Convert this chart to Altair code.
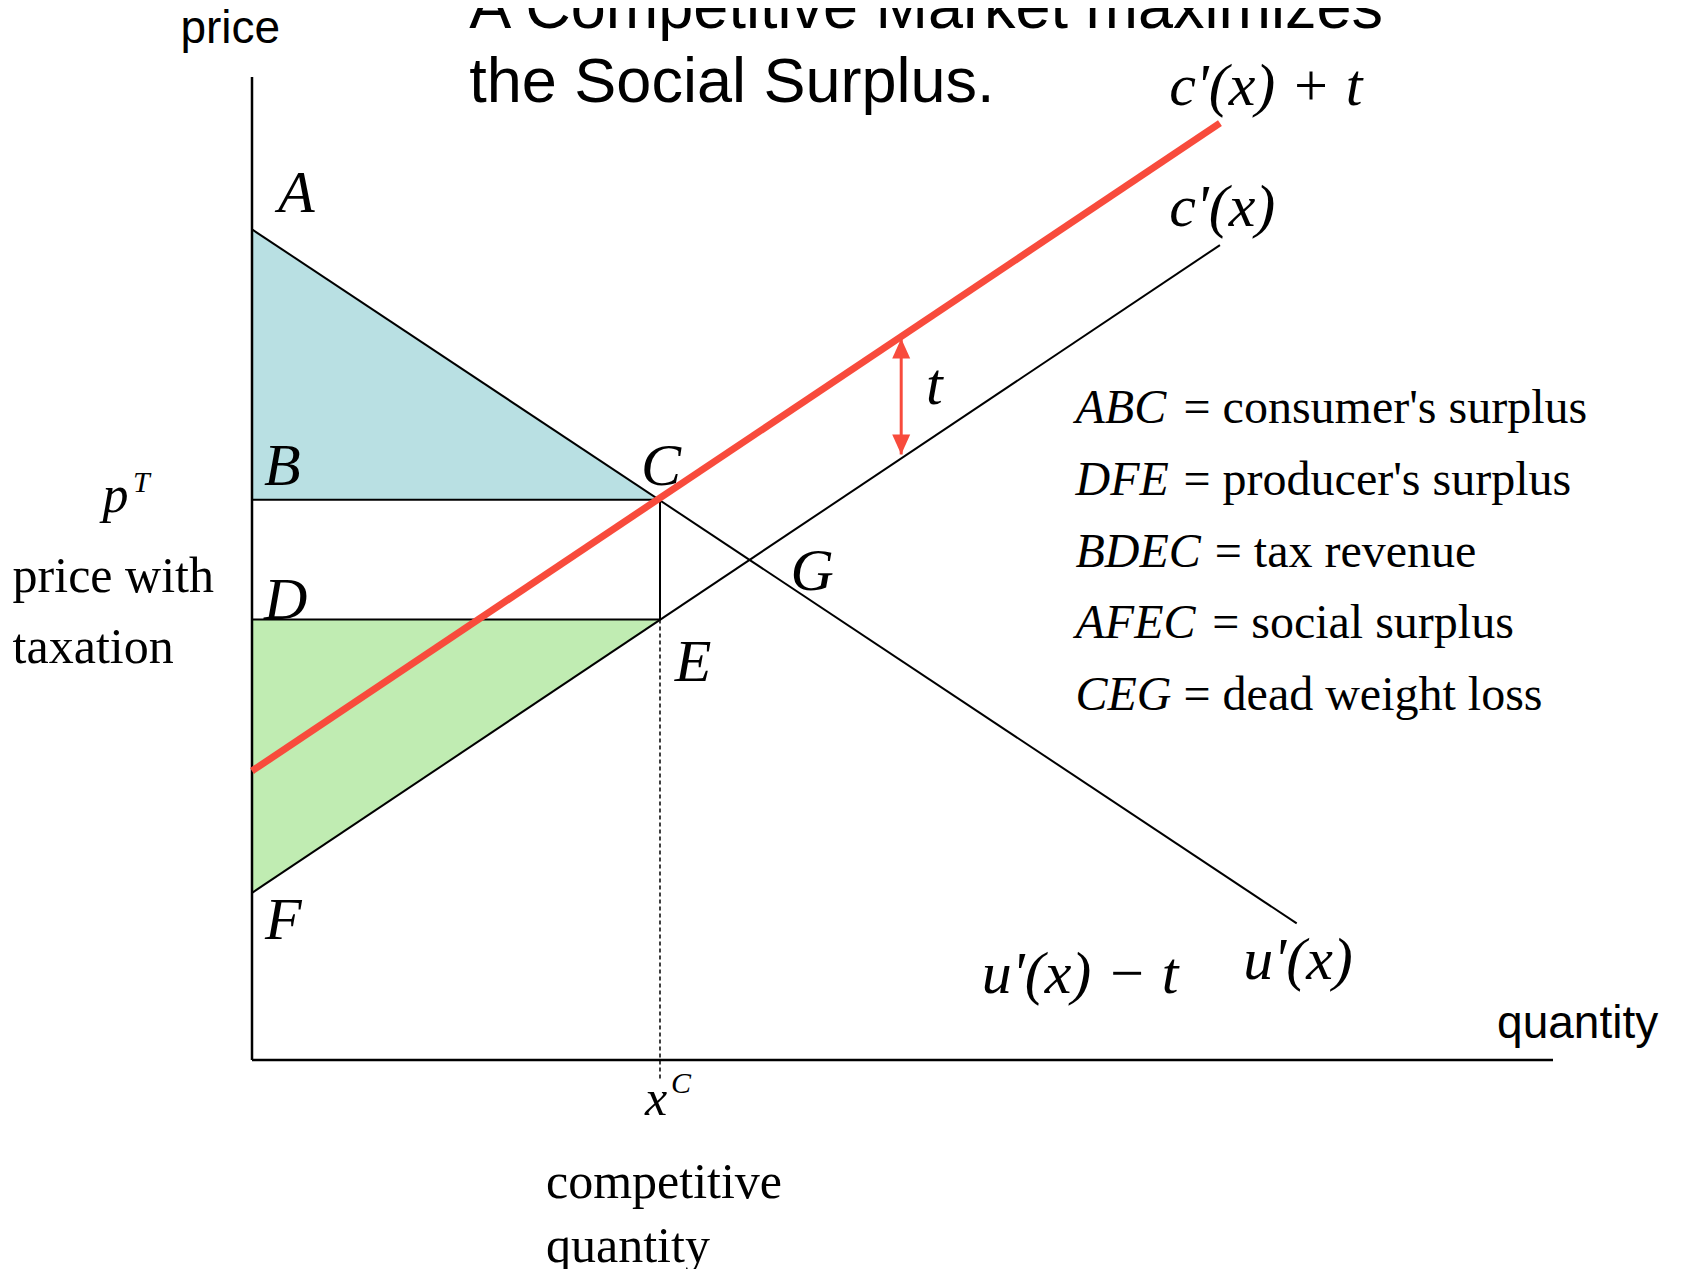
import altair as alt
import pandas as pd

# ---------------- data (quantity 0-100, price 0-100) ----------------
demand_x = [0, 80.3]          # u'(x)
demand_y = [84.5, 13.9]
supply_x = [0, 74.4]          # c'(x)
supply_y = [17.0, 82.9]
taxed_x = [0, 74.4]           # c'(x)+t
taxed_y = [29.4, 95.3]
x_c = 31.36                   # competitive quantity
p_A, p_T, p_S, p_F = 84.5, 57.0, 44.8, 17.0
dash_bottom = -2.0
arrow_x = 49.9
arrow_top, arrow_bottom = 73.4, 61.6

label_text = ["A", "B", "C", "D", "E", "F", "G", "t"]
label_x = [2.0, 0.92, 29.9, 0.92, 32.5, 1.0, 41.4, 51.8]
label_y = [86.3, 58.5, 58.5, 44.9, 38.6, 12.3, 47.8, 66.7]

curve_text = ["c'(x) + t", "c'(x)", "u'(x) \u2212 t", "u'(x)"]
curve_x = [70.5, 70.5, 56.1, 76.2]
curve_y = [97.2, 84.8, 6.8, 8.2]

legend_names = ["ABC", "DFE", "BDEC", "AFEC", "CEG"]
legend_desc = ["= consumer's surplus", "= producer's surplus", "= tax revenue",
               "= social surplus", "= dead weight loss"]
legend_eq_x = [71.6, 71.6, 74.0, 73.8, 71.6]
legend_y = [64.8, 57.5, 50.2, 42.9, 35.6]
legend_name_x = 63.3

serif_text = ["price with", "taxation", "competitive", "quantity"]
serif_x = [-18.4, -18.4, 22.6, 22.6]
serif_y = [47.6, 40.4, -14.0, -20.5]

title_lines = ["A Competitive Market maximizes", "the Social Surplus."]
title_x = 16.7
title_y = [105.0, 97.5]

# ---------------- helpers ----------------
W, H = 1301, 983
xs = alt.Scale(domain=[0, 100], nice=False, zero=False)
ys = alt.Scale(domain=[0, 100], nice=False, zero=False)
X = lambda f="x": alt.X(f"{f}:Q", scale=xs, axis=None)
Y = lambda f="y": alt.Y(f"{f}:Q", scale=ys, axis=None)

RED = "#f84b3c"

# shaded triangles
consumer = pd.DataFrame({"x": [0, x_c], "y": [p_A, p_T], "y2": [p_T, p_T]})
producer = pd.DataFrame({"x": [0, x_c], "y": [p_S, p_S], "y2": [p_F, p_S]})
area_c = alt.Chart(consumer).mark_area(color="#b9e0e3", opacity=1).encode(
    x=X(), y=Y(), y2="y2:Q")
area_p = alt.Chart(producer).mark_area(color="#c0ecb2", opacity=1).encode(
    x=X(), y=Y(), y2="y2:Q")

# black segments
segs = []
def add(name, xx, yy):
    for i, (a, b) in enumerate(zip(xx, yy)):
        segs.append({"seg": name, "o": i, "x": a, "y": b})
add("demand", demand_x, demand_y)
add("supply", supply_x, supply_y)
add("BC", [0, x_c], [p_T, p_T])
add("DE", [0, x_c], [p_S, p_S])
add("CE", [x_c, x_c], [p_T, p_S])
black = alt.Chart(pd.DataFrame(segs)).mark_line(color="black", strokeWidth=2).encode(
    x=X(), y=Y(), detail="seg:N", order="o:Q")

# axes
axes_df = pd.DataFrame({"x": [0, 0], "x2": [100, 0], "y": [0, 0], "y2": [0, 100]})
axes = alt.Chart(axes_df).mark_rule(color="black", strokeWidth=2.5).encode(
    x=X(), x2="x2:Q", y=Y(), y2="y2:Q")

dash = alt.Chart(pd.DataFrame({"x": [x_c], "y": [p_S], "y2": [dash_bottom]})).mark_rule(
    color="black", strokeWidth=1.5, strokeDash=[4, 3]).encode(x=X(), y=Y(), y2="y2:Q")

taxed = alt.Chart(pd.DataFrame({"x": taxed_x, "y": taxed_y})).mark_line(
    color=RED, strokeWidth=7).encode(x=X(), y=Y())

arrow_line = alt.Chart(pd.DataFrame({"x": [arrow_x], "y": [arrow_top], "y2": [arrow_bottom]})).mark_rule(
    color=RED, strokeWidth=3).encode(x=X(), y=Y(), y2="y2:Q")
head_up = alt.Chart(pd.DataFrame({"x": [arrow_x], "y": [arrow_top]})).mark_point(
    shape="M0,0L0.45,1L-0.45,1Z", size=1600, filled=True, opacity=1, color=RED,
    strokeWidth=0).encode(x=X(), y=Y())
head_dn = alt.Chart(pd.DataFrame({"x": [arrow_x], "y": [arrow_bottom]})).mark_point(
    shape="M0,0L0.45,-1L-0.45,-1Z", size=1600, filled=True, opacity=1, color=RED,
    strokeWidth=0).encode(x=X(), y=Y())

def texts(xx, yy, tt, font, size, italic=False):
    df = pd.DataFrame({"x": xx, "y": yy, "t": tt})
    kw = dict(font=font, fontSize=size, align="left", baseline="alphabetic", color="black")
    if italic:
        kw["fontStyle"] = "italic"
    return alt.Chart(df).mark_text(**kw).encode(x=X(), y=Y(), text="t:N")

SERIF = "Liberation Serif"
SANS = "Liberation Sans"

layers = [
    area_c, area_p, black, axes, dash, taxed, arrow_line, head_up, head_dn,
    texts(label_x, label_y, label_text, SERIF, 60, True),
    texts(curve_x, curve_y, curve_text, SERIF, 60, True),
    texts([legend_name_x] * 5, legend_y, legend_names, SERIF, 48, True),
    texts(legend_eq_x, legend_y, legend_desc, SERIF, 48),
    texts(serif_x, serif_y, serif_text, SERIF, 50),
    texts([-11.5], [55.75], ["p"], SERIF, 52, True),
    texts([-9.15], [57.8], ["T"], SERIF, 30, True),
    texts([30.2], [-5.6], ["x"], SERIF, 50, True),
    texts([32.2], [-3.4], ["C"], SERIF, 30, True),
    texts([-5.5], [103.5], ["price"], SANS, 46),
    texts([95.7], [2.2], ["quantity"], SANS, 46),
    texts([title_x] * 2, title_y, title_lines, SANS, 63),
]

chart = alt.layer(*layers).properties(
    width=W, height=H,
    padding={"left": 244, "top": 69, "right": 122, "bottom": 209},
    autosize=alt.AutoSizeParams(type="none"),
).configure_view(stroke=None)

chart.save("out.html", embed_options={"renderer": "svg", "actions": False})
